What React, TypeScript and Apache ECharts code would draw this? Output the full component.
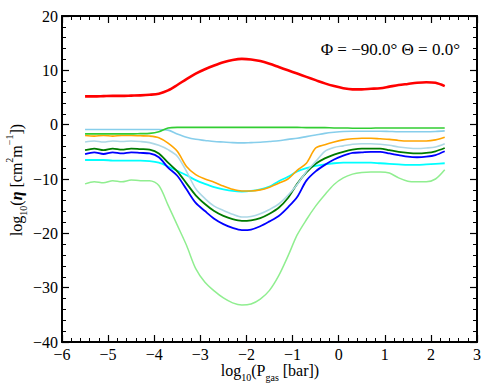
import React, { useEffect, useRef } from "react";
import * as echarts from "echarts";

const xs = [-5.5, -5.3, -5.1, -4.9, -4.7, -4.5, -4.3, -4.1, -3.9, -3.7, -3.5, -3.3, -3.1, -2.9, -2.7, -2.5, -2.3, -2.1, -1.9, -1.7, -1.5, -1.3, -1.1, -0.9, -0.7, -0.5, -0.3, -0.1, 0.1, 0.3, 0.5, 0.7, 0.9, 1.1, 1.3, 1.5, 1.7, 1.9, 2.1, 2.3];

const redVals = [5.2, 5.2, 5.25, 5.3, 5.3, 5.35, 5.4, 5.5, 5.7, 6.3, 7.3, 8.4, 9.4, 10.2, 10.9, 11.5, 11.9, 12.1, 12.0, 11.7, 11.2, 10.6, 10.0, 9.4, 8.8, 8.2, 7.6, 7.1, 6.7, 6.5, 6.5, 6.6, 6.7, 7.0, 7.3, 7.5, 7.7, 7.8, 7.7, 7.1];
const limeVals = [-1.7, -1.7, -1.7, -1.7, -1.7, -1.7, -1.65, -1.6, -1.3, -0.6, -0.5, -0.5, -0.5, -0.5, -0.5, -0.5, -0.5, -0.5, -0.5, -0.5, -0.5, -0.5, -0.5, -0.5, -0.55, -0.55, -0.55, -0.6, -0.6, -0.65, -0.65, -0.65, -0.6, -0.6, -0.6, -0.6, -0.6, -0.6, -0.6, -0.6];
const skyVals = [-0.9, -0.9, -0.9, -0.9, -0.9, -0.9, -0.9, -0.9, -0.9, -1.0, -1.7, -2.3, -2.7, -2.9, -3.1, -3.2, -3.3, -3.35, -3.3, -3.25, -3.1, -2.95, -2.7, -2.5, -2.2, -1.9, -1.6, -1.4, -1.25, -1.2, -1.2, -1.2, -1.2, -1.25, -1.3, -1.3, -1.3, -1.3, -1.25, -1.15];
const orangeVals = [-2.0, -2.1, -2.0, -2.1, -2.0, -2.0, -2.05, -2.1, -2.4, -3.4, -4.9, -7.7, -9.2, -10.0, -10.6, -11.3, -11.9, -12.2, -12.2, -12.0, -11.5, -10.8, -10.0, -8.4, -7.1, -4.3, -3.7, -3.2, -2.8, -2.6, -2.5, -2.5, -2.6, -2.7, -2.9, -3.0, -3.0, -3.0, -2.8, -2.3];
const lightBlueVals = [-3.2, -3.0, -3.2, -3.0, -3.1, -3.0, -3.1, -3.3, -3.8, -4.6, -5.8, -8.6, -11.8, -13.6, -15.0, -15.8, -16.5, -17.0, -16.9, -16.4, -15.6, -14.6, -13.0, -11.0, -8.6, -6.8, -4.9, -4.2, -3.9, -3.6, -3.5, -3.5, -3.6, -3.8, -4.1, -4.3, -4.4, -4.3, -4.1, -3.5];
const darkGreenVals = [-4.7, -4.4, -4.7, -4.4, -4.6, -4.4, -4.5, -4.6, -5.3, -7.0, -8.6, -10.8, -13.0, -14.6, -15.9, -16.8, -17.4, -17.7, -17.6, -17.2, -16.4, -15.3, -13.5, -10.9, -8.8, -7.2, -6.2, -5.5, -5.0, -4.6, -4.4, -4.4, -4.4, -4.7, -5.0, -5.2, -5.3, -5.2, -4.9, -4.3];
const blueVals = [-5.4, -5.1, -5.4, -5.1, -5.3, -5.1, -5.2, -5.3, -6.0, -7.9, -9.4, -11.9, -14.4, -15.9, -17.3, -18.3, -19.0, -19.4, -19.3, -18.7, -17.8, -16.8, -15.2, -13.3, -10.3, -8.6, -7.4, -6.4, -5.7, -5.2, -5.1, -5.0, -5.0, -5.3, -5.6, -5.9, -6.0, -5.9, -5.6, -4.9];
const cyanVals = [-6.5, -6.5, -6.5, -6.6, -6.6, -6.6, -6.6, -6.7, -7.0, -7.7, -8.5, -9.3, -10.2, -10.9, -11.5, -11.9, -12.2, -12.3, -12.2, -11.9, -11.4, -10.4, -9.6, -8.6, -8.0, -7.6, -7.3, -7.1, -7.0, -7.0, -7.0, -7.0, -7.1, -7.2, -7.3, -7.4, -7.4, -7.3, -7.2, -7.1];
const lightGreenVals = [-10.9, -10.5, -10.7, -10.3, -10.5, -10.2, -10.3, -10.3, -11.2, -14.8, -18.5, -22.2, -26.5, -29.0, -30.6, -31.9, -32.8, -33.2, -33.0, -32.1, -30.5, -27.8, -24.2, -20.3, -17.5, -15.0, -12.9, -11.0, -9.8, -9.1, -8.8, -8.7, -8.7, -8.9, -9.8, -10.4, -10.5, -10.5, -10.0, -8.3];

const xTicks = { min: -6, max: 3, interval: 1 };
const yTicks = { min: -40, max: 20, interval: 10 };
const annotation = "Φ = −90.0° Θ = 0.0°";

const seriesDefs = [
  { name: "lightgreen", vals: lightGreenVals, color: "#90EE90", width: 1.5 },
  { name: "cyan", vals: cyanVals, color: "#00FFFF", width: 1.8 },
  { name: "blue", vals: blueVals, color: "#0000FF", width: 1.8 },
  { name: "darkgreen", vals: darkGreenVals, color: "#007A00", width: 1.8 },
  { name: "lightblue", vals: lightBlueVals, color: "#ADD8E6", width: 1.6 },
  { name: "orange", vals: orangeVals, color: "#FFA500", width: 1.6 },
  { name: "skyblue", vals: skyVals, color: "#87CEEB", width: 1.6 },
  { name: "limegreen", vals: limeVals, color: "#32CD32", width: 1.6 },
  { name: "red", vals: redVals, color: "#FF0000", width: 2.6 },
];

const FONT = "Liberation Serif";
const fmt = (v: number) => "{t|" + (v < 0 ? "\u2212" + Math.abs(v) : String(v)) + "}";
const labelRich = { t: { fontFamily: FONT, fontSize: 16, color: "#000" } };

export default function App() {
  const ref = useRef<HTMLDivElement>(null);
  useEffect(() => {
    document.body.style.margin = "0";
    const chart = echarts.init(ref.current!, undefined, { renderer: "svg" });
    const axisLine = { show: true, onZero: false, lineStyle: { color: "#000", width: 2 } };
    const axisTick = { show: true, inside: true, length: 7, lineStyle: { color: "#000", width: 1.2 } };
    const minorTick = { show: true, splitNumber: 5, length: 4, lineStyle: { color: "#000", width: 1 } };
    const rich = {
      n: { fontFamily: FONT, fontSize: 16, color: "#000", lineHeight: 24, verticalAlign: "middle" },
      i: { fontFamily: FONT, fontSize: 16, color: "#000", fontStyle: "italic", fontWeight: "bold", lineHeight: 24, verticalAlign: "middle" },
      s: { fontFamily: FONT, fontSize: 10, color: "#000", lineHeight: 16, verticalAlign: "bottom" },
      p: { fontFamily: FONT, fontSize: 10, color: "#000", lineHeight: 18, verticalAlign: "top" },
      a: { fontFamily: FONT, fontSize: 17, color: "#000" },
    };
    chart.setOption({
      animation: false,
      textStyle: { fontFamily: FONT },
      grid: { left: 62, top: 16, right: 14, bottom: 50 },
      xAxis: [
        {
          type: "value", position: "bottom", ...xTicks, splitNumber: 9,
          axisLine, axisTick, minorTick, splitLine: { show: false },
          axisLabel: { formatter: fmt, rich: labelRich, margin: 4 },
        },
        {
          type: "value", position: "top", ...xTicks, splitNumber: 9,
          axisLine, axisTick, minorTick, splitLine: { show: false },
          axisLabel: { show: false },
        },
      ],
      yAxis: [
        {
          type: "value", position: "left", ...yTicks,
          axisLine, axisTick, minorTick, splitLine: { show: false },
          axisLabel: { formatter: fmt, rich: labelRich, margin: 4 },
        },
        {
          type: "value", position: "right", ...yTicks,
          axisLine, axisTick, minorTick, splitLine: { show: false },
          axisLabel: { show: false },
        },
      ],
      graphic: [
        {
          type: "text", x: 460, y: 49,
          style: { text: "{a|" + annotation + "}", rich, align: "right", verticalAlign: "middle" },
        },
        {
          type: "text", x: 270, y: 370,
          style: {
            text: "{n|log}{s|10}{n|(P}{s|gas}{n| [bar])}",
            rich, align: "center", verticalAlign: "middle",
          },
        },
        {
          type: "text", x: 16, y: 180, rotation: Math.PI / 2,
          style: {
            text: "{n|log}{s|10}{n|(}{i|η}{n| [cm}{p|2}{n|m}{p|\u22121}{n|])}",
            rich, align: "center", verticalAlign: "middle",
          },
        },
      ],
      series: seriesDefs.map((s) => ({
        name: s.name,
        type: "line",
        xAxisIndex: 0,
        yAxisIndex: 0,
        data: xs.map((x, i) => [x, s.vals[i]]),
        showSymbol: false,
        smooth: 0.3,
        lineStyle: { color: s.color, width: s.width },
        itemStyle: { color: s.color },
      })),
    });
    return () => chart.dispose();
  }, []);
  return <div ref={ref} style={{ width: 491, height: 392 }} />;
}
